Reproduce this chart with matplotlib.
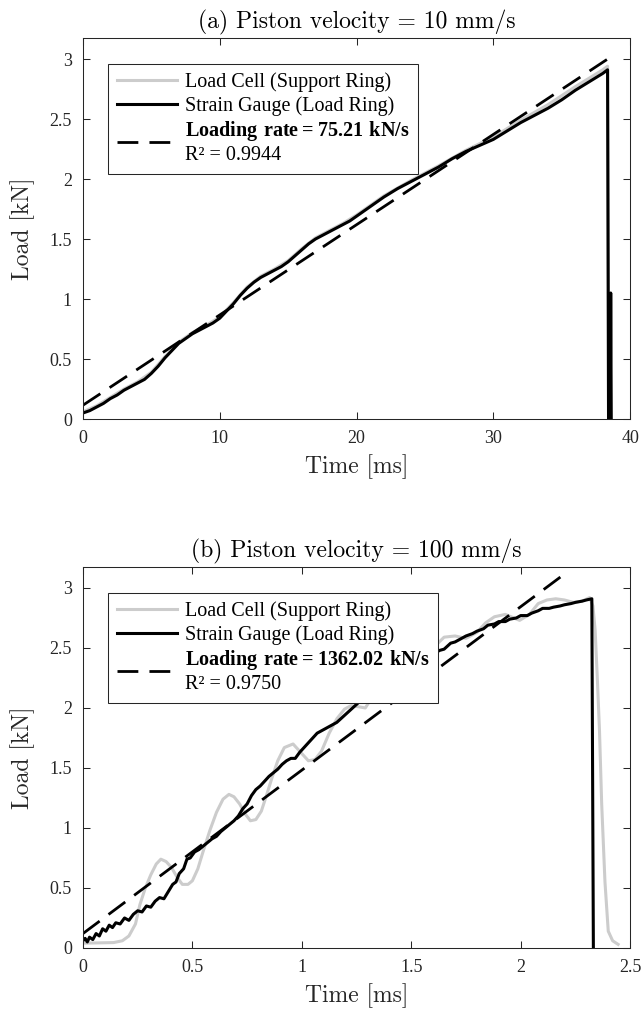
import numpy as np
import matplotlib
matplotlib.use("Agg")
import matplotlib.pyplot as plt

plt.rcParams['mathtext.fontset'] = 'custom'
plt.rcParams['mathtext.rm'] = 'Liberation Serif'
plt.rcParams['mathtext.bf'] = 'Liberation Serif:bold'
plt.rcParams['axes.unicode_minus'] = False

# (a) piston velocity 10 mm/s  -- time in ms, load in kN
t_a_sg = [0.0, 0.5, 1.0, 1.5, 2.0, 2.5, 3.0, 3.5, 4.0, 4.5, 5.0, 5.5, 6.0, 6.5, 7.0,
          7.5, 8.0, 8.5, 9.0, 9.5, 10.0, 10.5, 11.0, 11.5, 12.0, 12.5, 13.0, 13.5,
          14.0, 14.5, 15.0, 15.5, 16.0, 16.5, 17.0, 17.5, 18.0, 18.5, 19.0, 19.5,
          20.0, 21.0, 22.0, 23.0, 24.0, 25.0, 26.0, 27.0, 28.0, 29.0, 30.0, 31.0,
          32.0, 33.0, 34.0, 35.0, 36.0, 37.0, 38.0, 38.35, 38.42, 38.55, 38.58,
          38.62]
load_a_sg = [0.05, 0.07, 0.10, 0.13, 0.17, 0.20, 0.24, 0.27, 0.30, 0.33, 0.38, 0.44,
             0.51, 0.57, 0.63, 0.67, 0.71, 0.74, 0.77, 0.80, 0.84, 0.90, 0.96, 1.03,
             1.09, 1.14, 1.18, 1.21, 1.24, 1.27, 1.31, 1.36, 1.41, 1.46, 1.50, 1.53,
             1.56, 1.59, 1.62, 1.65, 1.69, 1.77, 1.85, 1.92, 1.98, 2.04, 2.10, 2.17,
             2.23, 2.28, 2.33, 2.40, 2.47, 2.53, 2.59, 2.66, 2.74, 2.81, 2.88, 2.91,
             0.0, 0.0, 1.05, 0.0]
t_a_lc = [0.0, 1.0, 2.0, 3.0, 4.0, 5.0, 6.0, 7.0, 8.0, 9.0, 10.0, 11.0, 12.0, 13.0,
          14.0, 15.0, 16.0, 17.0, 18.0, 19.0, 20.0, 22.0, 24.0, 26.0, 28.0, 30.0,
          32.0, 34.0, 36.0, 37.0, 38.0, 38.35, 38.45]
load_a_lc = [0.06, 0.11, 0.18, 0.25, 0.31, 0.39, 0.52, 0.64, 0.72, 0.78, 0.85, 0.97,
             1.10, 1.19, 1.25, 1.32, 1.42, 1.51, 1.57, 1.63, 1.70, 1.86, 1.99, 2.11,
             2.24, 2.35, 2.49, 2.62, 2.77, 2.84, 2.91, 2.94, 0.0]

# (b) piston velocity 100 mm/s
t_b_sg = [0.000, 0.010, 0.020, 0.030, 0.045, 0.060, 0.075, 0.090, 0.105, 0.120, 0.135,
          0.150, 0.170, 0.190, 0.210, 0.230, 0.250, 0.270, 0.290, 0.310, 0.330, 0.350,
          0.370, 0.390, 0.410, 0.425, 0.440, 0.460, 0.475, 0.490, 0.510, 0.530, 0.550,
          0.570, 0.590, 0.610, 0.630, 0.650, 0.670, 0.690, 0.710, 0.730, 0.750, 0.770,
          0.790, 0.810, 0.830, 0.850, 0.870, 0.890, 0.910, 0.930, 0.950, 0.970, 0.990,
          1.010, 1.040, 1.070, 1.100, 1.130, 1.160, 1.190, 1.220, 1.250, 1.280, 1.320,
          1.400, 1.500, 1.560, 1.600, 1.630, 1.650, 1.680, 1.700, 1.730, 1.750, 1.780,
          1.800, 1.830, 1.850, 1.880, 1.900, 1.930, 1.950, 1.980, 2.000, 2.030, 2.050,
          2.080, 2.100, 2.130, 2.150, 2.180, 2.200, 2.230, 2.250, 2.280, 2.300, 2.325,
          2.332]
load_b_sg = [0.06, 0.08, 0.05, 0.09, 0.07, 0.12, 0.10, 0.16, 0.14, 0.19, 0.17, 0.21,
             0.20, 0.25, 0.23, 0.28, 0.31, 0.30, 0.35, 0.34, 0.39, 0.42, 0.41, 0.47,
             0.53, 0.55, 0.62, 0.66, 0.74, 0.75, 0.80, 0.82, 0.85, 0.88, 0.91, 0.93,
             0.97, 1.00, 1.03, 1.06, 1.10, 1.16, 1.20, 1.27, 1.32, 1.35, 1.39, 1.43,
             1.46, 1.49, 1.53, 1.56, 1.58, 1.58, 1.63, 1.67, 1.73, 1.79, 1.82, 1.85,
             1.88, 1.93, 1.98, 2.03, 2.08, 2.14, 2.26, 2.36, 2.41, 2.45, 2.48, 2.49,
             2.54, 2.55, 2.58, 2.60, 2.62, 2.64, 2.66, 2.69, 2.70, 2.72, 2.72, 2.74,
             2.75, 2.77, 2.77, 2.79, 2.81, 2.83, 2.83, 2.84, 2.85, 2.86, 2.87, 2.88,
             2.89, 2.90, 2.91, 0.0]
t_b_lc = [0.000, 0.140, 0.180, 0.210, 0.240, 0.260, 0.285, 0.310, 0.335, 0.356, 0.380,
          0.405, 0.430, 0.454, 0.480, 0.500, 0.525, 0.550, 0.580, 0.610, 0.640, 0.667,
          0.690, 0.716, 0.740, 0.765, 0.790, 0.815, 0.840, 0.864, 0.890, 0.920, 0.960,
          0.995, 1.030, 1.060, 1.090, 1.125, 1.160, 1.195, 1.225, 1.260, 1.290, 1.350,
          1.420, 1.480, 1.540, 1.600, 1.650, 1.700, 1.750, 1.800, 1.840, 1.880, 1.930,
          1.995, 2.040, 2.080, 2.120, 2.160, 2.200, 2.240, 2.280, 2.315, 2.330, 2.340,
          2.350, 2.360, 2.370, 2.385, 2.400, 2.420, 2.445]
load_b_lc = [0.04, 0.045, 0.06, 0.10, 0.20, 0.36, 0.50, 0.61, 0.70, 0.74, 0.72, 0.67,
             0.59, 0.53, 0.53, 0.56, 0.66, 0.81, 0.98, 1.13, 1.24, 1.28, 1.26, 1.20,
             1.12, 1.06, 1.07, 1.14, 1.28, 1.42, 1.56, 1.67, 1.70, 1.63, 1.56, 1.57,
             1.64, 1.79, 1.91, 1.99, 2.02, 2.01, 2.00, 2.17, 2.33, 2.30, 2.38, 2.50,
             2.59, 2.60, 2.58, 2.63, 2.71, 2.76, 2.78, 2.73, 2.78, 2.87, 2.90, 2.91,
             2.90, 2.88, 2.89, 2.92, 2.85, 2.65, 2.25, 1.81, 1.20, 0.55, 0.14, 0.06,
             0.03]

# linear fits
rate_a = 75.21      # kN/s
r2_a = 0.9944
fit_a_t = [0.0, 38.3]
fit_a_load = [0.115, 0.115 + rate_a / 1000 * 38.3]

rate_b = 1362.02
r2_b = 0.9750
fit_b_t = [0.0, 2.19]
fit_b_load = [0.12, 0.12 + rate_b / 1000 * 2.19]

xticks_a = [0, 10, 20, 30, 40]
xticks_b = [0, 0.5, 1, 1.5, 2, 2.5]
xticklabels_b = ['0', '0.5', '1', '1.5', '2', '2.5']
yticks = [0, 0.5, 1, 1.5, 2, 2.5, 3]
yticklabels = ['0', '0.5', '1', '1.5', '2', '2.5', '3']

gray = '#cccccc'
axcol = '#262626'
label_font = dict(family='cmr10', size=17)

fig = plt.figure(figsize=(6.43, 10.19), dpi=100)
ax1 = fig.add_axes([0.129, 0.5888, 0.851, 0.3739])
ax2 = fig.add_axes([0.129, 0.0697, 0.851, 0.3739])


def draw(ax, t_lc, y_lc, t_sg, y_sg, ft, fy, rate, r2, xlim, xticks, xtl, title):
    ax.plot(t_lc, y_lc, color=gray, lw=2.2, label='Load Cell (Support Ring)')
    ax.plot(t_sg, y_sg, color='k', lw=2.2, label='Strain Gauge (Load Ring)')
    lbl = (r'$\mathbf{Loading\ rate = %.2f\ kN/s}$' % rate) + '\nR\u00b2 = %.4f' % r2
    ax.plot(ft, fy, color='k', lw=2.0, dashes=(7.5, 4), label=lbl)
    ax.set_xlim(*xlim)
    ax.set_ylim(0, 3.175)
    ax.set_xticks(xticks)
    ax.set_xticklabels(xtl, family='Liberation Serif', fontsize=13)
    ax.set_yticks(yticks)
    ax.set_yticklabels(yticklabels, family='Liberation Serif', fontsize=13)
    ax.tick_params(direction='in', top=True, right=True, length=5, width=0.75,
                   color=axcol, labelcolor=axcol, pad=8)
    for s in ax.spines.values():
        s.set_color(axcol)
        s.set_linewidth(0.75)
    ax.set_xlabel('Time [ms]', fontdict=label_font, color=axcol, labelpad=5)
    ax.set_ylabel('Load [kN]', fontdict=label_font, color=axcol, labelpad=10)
    ax.set_title(title, fontdict=label_font, pad=7)
    leg = ax.legend(loc='upper left', bbox_to_anchor=(0.046, 0.931), borderaxespad=0,
                    prop={'family': 'Liberation Serif', 'size': 14.5},
                    handlelength=3.0, handletextpad=0.4, borderpad=0.42,
                    labelspacing=0.18, fancybox=False, framealpha=1,
                    edgecolor=axcol)
    leg.get_frame().set_linewidth(0.75)


draw(ax1, t_a_lc, load_a_lc, t_a_sg, load_a_sg, fit_a_t, fit_a_load, rate_a, r2_a,
     (0, 40), xticks_a, [str(v) for v in xticks_a],
     '(a) Piston velocity = 10 mm/s')
draw(ax2, t_b_lc, load_b_lc, t_b_sg, load_b_sg, fit_b_t, fit_b_load, rate_b, r2_b,
     (0, 2.5), xticks_b, xticklabels_b,
     '(b) Piston velocity = 100 mm/s')

fig.savefig('out.png', dpi=100)
